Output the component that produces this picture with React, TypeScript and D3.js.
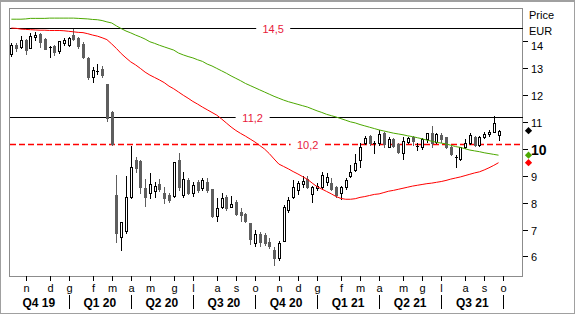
import React from 'react';
import * as d3 from 'd3';

const W = 577;
const H = 317;
const WEEK = 7 * 24 * 3600 * 1000;
const START = Date.UTC(2019, 9, 11); // first weekly bar (Friday)

const opens = [13.52,13.87,13.81,14.04,13.77,14.16,14.28,14.09,13.78,13.84,13.66,13.93,13.88,14.25,14.13,13.92,13.40,12.69,12.88,12.97,12.42,11.39,8.29,6.71,6.96,8.20,9.59,9.56,8.54,8.37,8.44,8.70,8.37,8.29,8.25,9.59,8.29,8.85,8.37,8.78,8.54,8.78,8.50,7.51,7.83,8.23,7.85,8.04,7.67,7.58,7.26,6.51,6.84,6.80,6.55,6.26,5.93,6.58,7.73,8.21,8.47,8.70,8.90,8.33,8.54,8.58,8.78,8.75,8.58,8.36,8.60,8.98,9.21,9.59,10.21,10.48,10.24,10.21,10.58,10.09,10.36,10.17,9.84,10.27,10.44,10.11,10.09,10.36,10.58,10.27,10.52,10.44,10.09,9.72,9.62,10.09,10.21,10.46,10.15,10.46,10.56,10.64,10.52];
const closes = [13.87,13.77,14.04,13.68,14.19,14.24,13.99,13.73,13.80,13.62,14.01,14.07,14.12,14.09,13.85,13.42,12.67,12.94,12.90,12.76,11.14,10.19,6.86,7.27,8.20,9.32,9.28,8.58,8.22,8.69,8.62,8.50,8.16,8.10,9.50,8.58,8.87,8.37,8.66,8.47,8.83,8.47,7.51,7.79,8.17,7.79,7.95,7.58,7.54,7.33,6.64,6.83,6.54,6.50,6.39,5.96,6.50,7.84,8.12,8.57,8.73,8.82,8.60,8.60,8.64,9.03,8.95,8.50,8.29,8.57,8.86,9.16,9.47,10.06,10.40,10.21,10.23,10.55,10.19,10.36,10.11,9.90,10.31,10.40,10.31,10.12,10.36,10.58,10.24,10.56,10.36,10.09,9.81,9.71,10.06,10.23,10.52,10.15,10.46,10.56,10.64,10.98,10.68];
const highs = [13.96,13.96,14.22,14.08,14.32,14.34,14.31,14.14,13.84,13.87,14.03,14.12,14.18,14.47,14.18,13.98,13.43,13.06,13.16,13.10,12.42,11.43,9.03,7.30,9.00,10.11,9.70,9.59,8.87,9.10,8.78,8.87,8.60,8.36,9.53,9.86,9.13,8.91,8.78,8.85,8.91,8.91,8.50,8.17,8.37,8.29,8.25,8.10,7.80,7.63,7.26,6.99,6.91,6.87,6.68,6.35,6.58,7.92,8.20,8.85,8.82,9.00,9.00,8.62,8.73,9.16,9.12,8.92,8.62,8.62,8.92,9.40,9.80,10.21,10.47,10.52,10.31,10.71,10.63,10.46,10.40,10.21,10.44,10.46,10.48,10.21,10.40,10.61,10.86,10.58,10.61,10.46,10.11,9.78,10.09,10.36,10.58,10.50,10.48,10.64,10.71,11.23,10.71];
const lows = [13.47,13.66,13.75,13.52,13.74,14.06,13.81,13.72,13.41,13.50,13.58,13.86,13.84,14.06,13.75,13.39,12.60,12.50,12.79,12.67,11.05,10.15,6.55,6.24,6.86,8.18,9.16,8.35,7.88,8.17,8.22,8.45,7.98,8.03,8.22,8.47,8.20,8.33,8.25,8.40,8.47,8.40,7.46,7.32,7.79,7.73,7.85,7.53,7.32,7.28,6.45,6.39,6.39,6.43,6.31,5.68,5.87,6.56,7.67,8.17,8.33,8.60,8.55,8.04,8.47,8.50,8.66,8.47,8.20,8.13,8.51,8.95,9.19,9.34,10.20,10.15,9.86,10.15,10.09,10.06,10.07,9.86,9.62,10.23,10.15,9.96,9.99,10.27,10.09,10.22,10.27,10.04,9.78,9.34,9.59,10.03,10.19,10.11,10.11,10.40,10.48,10.62,10.33];

const maRed = [14.50,14.49,14.46,14.45,14.44,14.43,14.42,14.42,14.41,14.41,14.41,14.40,14.38,14.36,14.34,14.33,14.29,14.24,14.20,14.14,14.07,13.91,13.74,13.55,13.39,13.24,13.13,13.00,12.86,12.75,12.66,12.57,12.47,12.34,12.24,12.12,12.00,11.89,11.77,11.67,11.56,11.46,11.36,11.26,11.12,10.97,10.82,10.69,10.58,10.48,10.37,10.26,10.13,10.00,9.83,9.63,9.44,9.35,9.26,9.16,9.07,8.97,8.87,8.73,8.60,8.51,8.42,8.33,8.23,8.16,8.13,8.13,8.15,8.20,8.23,8.27,8.31,8.33,8.38,8.43,8.46,8.50,8.54,8.58,8.62,8.65,8.68,8.71,8.73,8.76,8.79,8.83,8.88,8.92,8.96,9.01,9.06,9.11,9.15,9.22,9.30,9.39,9.49];
const maGreen = [14.83,14.83,14.83,14.84,14.86,14.86,14.86,14.86,14.87,14.87,14.87,14.87,14.87,14.87,14.86,14.85,14.84,14.82,14.81,14.78,14.73,14.69,14.58,14.48,14.39,14.32,14.24,14.17,14.09,13.99,13.93,13.86,13.80,13.74,13.68,13.57,13.50,13.44,13.39,13.32,13.26,13.16,13.09,13.00,12.91,12.82,12.72,12.63,12.54,12.44,12.36,12.28,12.20,12.12,12.04,11.96,11.89,11.82,11.76,11.71,11.66,11.61,11.56,11.49,11.42,11.36,11.29,11.24,11.19,11.13,11.07,11.01,10.97,10.91,10.86,10.81,10.76,10.71,10.67,10.63,10.59,10.56,10.53,10.49,10.46,10.42,10.38,10.33,10.29,10.25,10.22,10.19,10.14,10.09,10.06,10.01,9.96,9.93,9.90,9.86,9.83,9.80,9.77];

const levels = [14.5, 11.2, 10.2];
const levelLabels = ['14,5', '11,2', '10,2'];
const levelDashed = [false, false, true];
const levelLabelPos = [0.514, 0.474, 0.581];

const yTicks = [6, 7, 8, 9, 10, 11, 12, 13, 14];
const monthLetters = ['g', 'f', 'm', 'a', 'm', 'g', 'l', 'a', 's', 'o', 'n', 'd'];
const quarterLabels = ['Q4 19', 'Q1 20', 'Q2 20', 'Q3 20', 'Q4 20', 'Q1 21', 'Q2 21', 'Q3 21'];

const FONT = "'Liberation Sans', Arial, sans-serif";
const GRAY = '#5e5e5e';
const RED = '#ff0000';
const GREEN = '#4ca800';
const LABEL = '#e8193c';

export default function App() {
  const left = 9, right = 523, top = 8, bottom = 276;
  const x = d3.scaleUtc()
    .domain([new Date(Date.UTC(2019, 9, 7, 12, 30)), new Date(Date.UTC(2021, 9, 29, 21))])
    .range([left, right]);
  const y = d3.scaleLinear().domain([5.2744, 15.2465]).range([bottom, top]);

  const dates = opens.map((_, i) => new Date(START + i * WEEK));

  // month ticks: first weekly bar of each month
  const ticks: { d: Date; m: number }[] = [];
  for (let i = 1; i < 110; i++) {
    const d = new Date(START + i * WEEK);
    const p = new Date(START + (i - 1) * WEEK);
    if (x(d) > right) break;
    if (d.getUTCMonth() !== p.getUTCMonth()) ticks.push({ d, m: d.getUTCMonth() });
  }
  const qBounds = ticks.filter(t => t.m % 3 === 0).map(t => x(t.d));
  const qEdges = [left, ...qBounds];

  const lineRed = d3.line<number>().x((_, i) => x(dates[i])).y(v => y(v));
  const diamond = d3.symbol(d3.symbolSquare, 26)();

  const last = closes.length - 1;

  return (
    <svg width={W} height={H} style={{ position: 'absolute', left: 0, top: 0 }} fontFamily={FONT}>
      <rect x={0} y={0} width={W} height={H} fill="#ffffff" />
      <rect x={0.5} y={0.5} width={574} height={313} fill="none" stroke="#a0a0a0" />
      <line x1={0} x2={575} y1={1.5} y2={1.5} stroke="#a0a0a0" />
      <rect x={left + 0.5} y={top + 0.5} width={right - left - 1} height={bottom - top} fill="#fff" stroke="#8c8c8c" />

      {/* horizontal levels */}
      {levels.map((v, k) => {
        const yy = Math.round(y(v)) + 0.5;
        const cx = left + levelLabelPos[k] * (right - left);
        return (
          <g key={k}>
            <line x1={left + 1} x2={right} y1={yy} y2={yy}
              stroke={levelDashed[k] ? RED : '#000'}
              strokeWidth={levelDashed[k] ? 1.5 : 1}
              strokeDasharray={levelDashed[k] ? '6 3' : undefined} />
            <rect x={cx - 17} y={yy - 7} width={34} height={14} fill="#fff" />
            <text x={cx} y={yy + 4} textAnchor="middle" fontSize={11} fill={LABEL}>{levelLabels[k]}</text>
          </g>
        );
      })}

      {/* candles */}
      {dates.map((d, i) => {
        const cx = Math.round(x(d));
        const o = opens[i], c = closes[i];
        const yt = Math.round(y(Math.max(o, c)));
        const yb = Math.round(y(Math.min(o, c)));
        const yh = Math.round(y(highs[i]));
        const yl = Math.round(y(lows[i]));
        const up = c >= o;
        const doji = yb - yt < 2;
        const col = doji || up ? '#000' : GRAY;
        return (
          <g key={i}>
            <line x1={cx + 0.5} x2={cx + 0.5} y1={yh} y2={yl + 1} stroke={col} />
            {doji ? (
              <line x1={cx - 1} x2={cx + 2} y1={yt + 0.5} y2={yt + 0.5} stroke="#000" />
            ) : up ? (
              <rect x={cx - 0.5} y={yt + 0.5} width={2} height={yb - yt} fill="#fff" stroke="#000" />
            ) : (
              <rect x={cx - 1} y={yt} width={3} height={yb - yt + 1} fill={GRAY} />
            )}
          </g>
        );
      })}

      {/* moving averages */}
      <path d={lineRed(maGreen) || ''} fill="none" stroke={GREEN} strokeWidth={1} />
      <path d={lineRed(maRed) || ''} fill="none" stroke={RED} strokeWidth={1} />

      {/* right axis */}
      <text x={529} y={19} fontSize={11} fill="#000">Price</text>
      <text x={529} y={35} fontSize={11} fill="#000">EUR</text>
      {yTicks.map(t => {
        const yy = Math.round(y(t)) + 0.5;
        const bold = t === 10;
        return (
          <g key={t}>
            <line x1={right} x2={right + 5} y1={yy} y2={yy} stroke="#000" />
            <text x={531} y={yy + (t === 14 ? 8 : 4)} fontSize={bold ? 14 : 11} fontWeight={bold ? 'bold' : 'normal'} fill="#000" dy={bold ? 1 : 0}>{t}</text>
          </g>
        );
      })}
      <path d={diamond || ''} transform={`translate(528.5,${y(closes[last])}) rotate(45)`} fill="#000" />
      <path d={diamond || ''} transform={`translate(528.5,${y(maGreen[last])}) rotate(45)`} fill={GREEN} />
      <path d={diamond || ''} transform={`translate(528.5,${y(maRed[last])}) rotate(45)`} fill={RED} />

      {/* bottom axis */}
      {ticks.map((t, k) => {
        const xx = Math.round(x(t.d)) + 0.5;
        return (
          <g key={k}>
            <line x1={xx} x2={xx} y1={bottom} y2={bottom + 5} stroke="#000" />
            <text x={xx} y={292} fontSize={11} textAnchor="middle" fill="#000">{monthLetters[t.m]}</text>
          </g>
        );
      })}
      {qBounds.map((b, k) => (
        <line key={k} x1={Math.round(b) + 0.5} x2={Math.round(b) + 0.5} y1={295} y2={309} stroke="#000" />
      ))}
      {quarterLabels.map((q, k) => (
        <text key={q} x={(qEdges[k] + qEdges[k + 1]) / 2} y={307} fontSize={12} fontWeight="bold" textAnchor="middle" fill="#000">{q}</text>
      ))}
    </svg>
  );
}
